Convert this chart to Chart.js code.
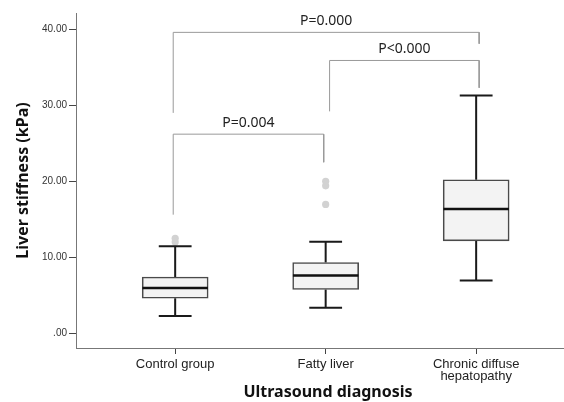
<!DOCTYPE html>
<html>
<head>
<meta charset="utf-8">
<script src="https://cdn.jsdelivr.net/npm/chart.js@4/dist/chart.umd.min.js"></script>
<style>
  html, body { margin: 0; padding: 0; background: #fff; overflow: hidden; }
  #wrap { width: 584px; height: 402px; }
</style>
</head>
<body>
<div id="wrap"><canvas id="c" width="584" height="402"></canvas></div>
<script>
// ---- data ----
const categories = ['Control group', 'Fatty liver', ['Chronic diffuse', 'hepatopathy']];
const lowerWhisker = [2.25, 3.35, 6.95];
const q1 = [4.6, 5.75, 12.15];
const median = [5.95, 7.6, 16.35];
const q3 = [7.4, 9.3, 20.2];
const upperWhisker = [11.45, 12.05, 31.3];
const outlierGroup = [0, 0, 1, 1, 1];
const outlierValue = [12.0, 12.5, 16.95, 19.4, 20.0];

const yTickValues = [0, 10, 20, 30, 40];
const yTickLabels = ['.00', '10.00', '20.00', '30.00', '40.00'];

const bracketFrom = [0, 1, 0];
const bracketTo = [1, 2, 2];
const bracketTop = [26.2, 35.9, 39.6];
const bracketLeftEnd = [15.6, 29.2, 29.0];
const bracketRightEnd = [22.5, 32.3, 38.1];
const bracketLabels = ['P=0.004', 'P<0.000', 'P=0.000'];

// ---- derived datasets ----
const BOX_HALF = 0.2176;   // half of box width in category units
const CAP_HALF = 0.109;
const gap = (x) => ({ x: x, y: null });

const boxData = categories.map((c, i) => ({ x: i, y: [q1[i], q3[i]] }));

const whiskerData = [];
categories.forEach((c, i) => {
  whiskerData.push({ x: i, y: q3[i] }, { x: i, y: upperWhisker[i] }, gap(i));
  whiskerData.push({ x: i, y: q1[i] }, { x: i, y: lowerWhisker[i] }, gap(i));
  whiskerData.push({ x: i - CAP_HALF, y: upperWhisker[i] }, { x: i + CAP_HALF, y: upperWhisker[i] }, gap(i));
  whiskerData.push({ x: i - CAP_HALF, y: lowerWhisker[i] }, { x: i + CAP_HALF, y: lowerWhisker[i] }, gap(i));
});

const medianData = [];
categories.forEach((c, i) => {
  medianData.push({ x: i - BOX_HALF, y: median[i] }, { x: i + BOX_HALF, y: median[i] }, gap(i));
});

const outlierData = outlierValue.map((v, k) => ({ x: outlierGroup[k], y: v }));

const legLeft = (c) => c + (c === 1 ? 0.026 : -0.013);
const legRight = (c) => c + (c === 2 ? 0.02 : -0.013);
const bracketData = [];
bracketFrom.forEach((f, k) => {
  const xl = legLeft(f), xr = legRight(bracketTo[k]);
  bracketData.push({ x: xl, y: bracketLeftEnd[k] }, { x: xl, y: bracketTop[k] },
                   { x: xr, y: bracketTop[k] }, { x: xr, y: bracketRightEnd[k] }, gap(xr));
});

const labelPlugin = {
  id: 'bracketLabels',
  afterDatasetsDraw(chart) {
    const { ctx, scales: { x, y } } = chart;
    ctx.save();
    ctx.font = '14px "Noto Sans", "Liberation Sans", sans-serif';
    ctx.fillStyle = '#222';
    ctx.textAlign = 'center';
    ctx.textBaseline = 'bottom';
    bracketFrom.forEach((f, k) => {
      const cx = (x.getPixelForValue(legLeft(f)) + x.getPixelForValue(legRight(bracketTo[k]))) / 2;
      const cy = y.getPixelForValue(bracketTop[k]) - 4;
      ctx.fillText(bracketLabels[k], cx, cy);
    });
    ctx.restore();
  }
};

new Chart(document.getElementById('c'), {
  type: 'bar',
  data: {
    datasets: [
      { type: 'line', data: medianData, borderColor: '#111', borderWidth: 2.6, pointRadius: 0, spanGaps: false, order: 0, borderCapStyle: 'butt' },
      { type: 'bar', data: boxData, backgroundColor: '#f3f3f3', borderColor: '#4a4a4a', borderWidth: 1.6, borderSkipped: false, barThickness: 66, order: 2 },
      { type: 'line', data: whiskerData, borderColor: '#1a1a1a', borderWidth: 2, pointRadius: 0, spanGaps: false, order: 3, borderCapStyle: 'butt' },
      { type: 'scatter', data: outlierData, backgroundColor: '#d2d2d2', borderWidth: 0, pointRadius: 3.6, order: 4 },
      { type: 'line', data: bracketData, borderColor: '#9a9a9a', borderWidth: 1, pointRadius: 0, spanGaps: false, order: 5 }
    ]
  },
  options: {
    responsive: false,
    animation: false,
    layout: { padding: { top: 13, left: 0, right: 0, bottom: 0 } },
    plugins: { legend: { display: false }, tooltip: { enabled: false } },
    scales: {
      x: {
        type: 'linear',
        min: -0.659,
        max: 2.690,
        offset: false,
        afterBuildTicks: (s) => { s.ticks = categories.map((c, i) => ({ value: i })); },
        afterFit: (s) => { s.height = 54; },
        ticks: {
          callback: (v) => categories[v],
          font: { family: '"Liberation Sans", Arial, sans-serif', size: 13, lineHeight: 0.93 },
          color: '#222',
          padding: 4,
          maxRotation: 0,
          autoSkip: false
        },
        grid: { display: true, drawOnChartArea: false, drawTicks: true, tickLength: 6, color: '#444', offset: false },
        border: { display: true, color: '#777', width: 1 },
        title: {
          display: true,
          text: 'Ultrasound diagnosis',
          font: { family: '"Noto Sans", sans-serif', size: 16, weight: 'bold' },
          color: '#111',
          padding: { top: 0, bottom: 0 }
        }
      },
      y: {
        type: 'linear',
        min: -1.95,
        max: 42.15,
        afterBuildTicks: (s) => { s.ticks = yTickValues.map((v) => ({ value: v })); },
        afterFit: (s) => { s.width = 76; },
        ticks: {
          callback: (v) => yTickLabels[yTickValues.indexOf(v)],
          font: { family: '"Liberation Sans", Arial, sans-serif', size: 10 },
          color: '#333',
          padding: 2
        },
        grid: { display: true, drawOnChartArea: false, drawTicks: true, tickLength: 7, color: '#444' },
        border: { display: true, color: '#777', width: 1 },
        title: {
          display: true,
          text: 'Liver stiffness (kPa)',
          font: { family: '"Noto Sans", sans-serif', size: 16, weight: 'bold' },
          color: '#111',
          padding: { top: 14, bottom: 0 }
        }
      }
    }
  },
  plugins: [labelPlugin]
});
</script>
</body>
</html>
